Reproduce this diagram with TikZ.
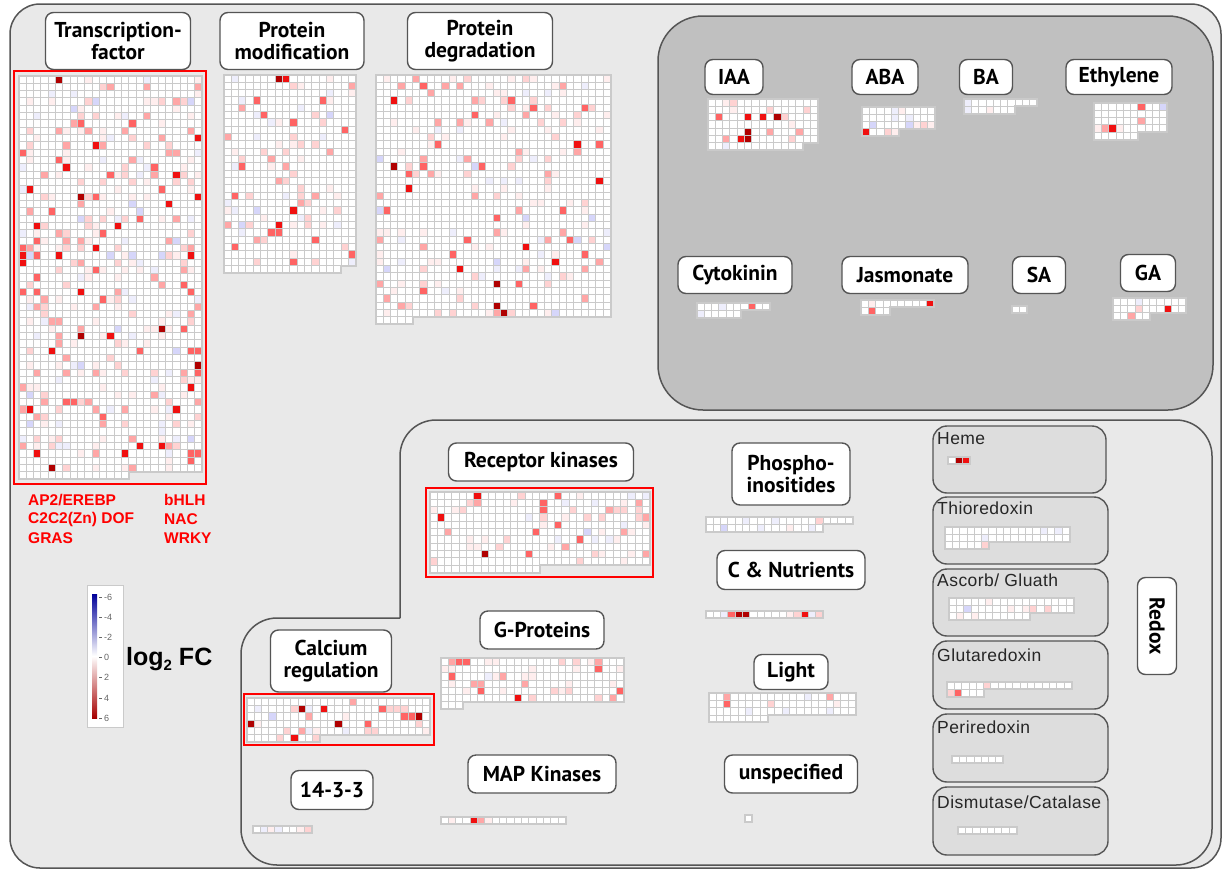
\documentclass[tikz,border=0pt]{standalone}
\usepackage{fontspec}
\setmainfont{Liberation Sans}
\newfontfamily\labff{PT Sans}
\newfontfamily\subff[LetterSpace=2.5]{Liberation Sans}
\definecolor{bgc}{HTML}{E9E9E9}
\definecolor{hormc}{HTML}{C0C0C0}
\definecolor{lc}{HTML}{555555}
\definecolor{subc}{HTML}{DDDDDD}
\definecolor{gridc}{HTML}{CACACA}
\definecolor{hA}{HTML}{FFEEEE}
\definecolor{hB}{HTML}{FFD2D2}
\definecolor{hC}{HTML}{FFA6A6}
\definecolor{hD}{HTML}{FF6464}
\definecolor{hE}{HTML}{F01010}
\definecolor{hF}{HTML}{B00000}
\definecolor{hG}{HTML}{EEEEFC}
\definecolor{hH}{HTML}{D6D6FA}
\definecolor{hlred}{HTML}{FF0000}
\definecolor{tickc}{HTML}{666666}
\def\cp{7.33}
\tikzset{
  gline/.style={draw=gridc, line width=1pt},
  gborder/.style={draw=gridc, line width=2pt, line join=miter},
  lab/.style={draw=lc, line width=1.4pt, fill=white, rounded corners=8pt, align=center, inner sep=0pt,
    font=\labff\bfseries\fontsize{21.5}{22}\selectfont},
  sublab/.style={anchor=north west, inner sep=0pt, font=\subff\fontsize{17.5}{20}\selectfont, text=black!85},
  subbox/.style={draw=lc, line width=1.4pt, fill=subc, rounded corners=14pt},
  hlbox/.style={draw=hlred, line width=2.2pt},
  redtxt/.style={anchor=west, inner sep=0pt, text=hlred, font=\bfseries\fontsize{15.5}{18}\selectfont},
  ticklab/.style={anchor=west, inner sep=0pt, text=tickc, font=\fontsize{9}{10}\selectfont}
}
\newcommand\hgrid[7]{%
  \pgfmathtruncatemacro\cmax{#3-1}%
  \pgfmathtruncatemacro\rmax{#4-1}%
  \fill[white] (#1,#2) rectangle ++({#3*\cp},{#4*\cp});
  \ifnum#5>0 \fill[white] (#1,{#2+#4*\cp}) rectangle ++({#5*\cp},\cp);\fi
  \ifnum#6>0
    \foreach \k in {1,...,#6}{%
      \pgfmathrandominteger{\rc}{0}{\cmax}%
      \pgfmathrandominteger{\rrow}{0}{\rmax}%
      \pgfmathrandominteger{\sh}{1}{100}%
      \ifnum\sh<29 \def\hcol{hA}\else
      \ifnum\sh<49 \def\hcol{hB}\else
      \ifnum\sh<66 \def\hcol{hC}\else
      \ifnum\sh<75 \def\hcol{hD}\else
      \ifnum\sh<81 \def\hcol{hE}\else
      \ifnum\sh<83 \def\hcol{hF}\else
      \ifnum\sh<96 \def\hcol{hG}\else \def\hcol{hH}\fi\fi\fi\fi\fi\fi\fi
      \fill[\hcol] ({#1+\rc*\cp},{#2+\rrow*\cp}) rectangle ++(\cp,\cp);
    }%
  \fi
  \foreach \ec/\er/\ecol in {#7}{\fill[\ecol] ({#1+\ec*\cp},{#2+\er*\cp}) rectangle ++(\cp,\cp);}%
  \foreach \lr in {0,...,#4}{\draw[gline] (#1,{#2+\lr*\cp}) -- ++({#3*\cp},0);}%
  \foreach \lc in {0,...,#3}{\draw[gline] ({#1+\lc*\cp},#2) -- ++(0,{#4*\cp});}%
  \ifnum#5>0
    \draw[gline] (#1,{#2+(#4+1)*\cp}) -- ++({#5*\cp},0);
    \foreach \lc in {0,...,#5}{\draw[gline] ({#1+\lc*\cp},{#2+#4*\cp}) -- ++(0,\cp);}%
    \draw[gborder] (#1,#2) -- ++({#3*\cp},0) -- ++(0,{#4*\cp}) -- ({#1+#5*\cp},{#2+#4*\cp}) -- ++(0,\cp) -- (#1,{#2+(#4+1)*\cp}) -- cycle;
  \else
    \draw[gborder] (#1,#2) rectangle ++({#3*\cp},{#4*\cp});
  \fi
}
\begin{document}
\begin{tikzpicture}[x=1pt,y=-1pt]
\pgfmathsetseed{11}
\fill[white] (0,0) rectangle (1226,873);
\useasboundingbox (0,0) rectangle (1226,873);
% regions
\draw[lc, line width=1.5pt, fill=bgc, rounded corners=30pt] (10,4) rectangle (1221,868);
\draw[lc, line width=1.5pt, fill=hormc, rounded corners=45pt] (658,16) rectangle (1213,410);
\draw[lc, line width=1.5pt, line join=round] (400,618) [rounded corners=36pt] -- (400,420) -- (1212,420) -- (1212,865) -- (241,865) -- (241,618) -- (400,618);
% redox sub boxes
\draw[subbox] (933,426) rectangle (1106,493);
\draw[subbox] (933,497) rectangle (1108,564);
\draw[subbox] (933,569) rectangle (1108,636);
\draw[subbox] (933,641) rectangle (1108,709);
\draw[subbox] (933,714) rectangle (1108,782);
\draw[subbox] (933,787) rectangle (1108,855);
\node[sublab] (heme) at (937,432) {Heme};
\node[sublab] (thio) at (937,502) {Thioredoxin};
\node[sublab] (asc) at (937,574) {Ascorb/ Gluath};
\node[sublab] (glu) at (937,649) {Glutaredoxin};
\node[sublab] (peri) at (937,721) {Periredoxin};
\node[sublab] (dism) at (937,796) {Dismutase/Catalase};
% grids
\hgrid{19}{76}{25}{54}{15}{400}{0/0/white}
\hgrid{224}{75}{18}{26}{16}{95}{0/0/white}
\hgrid{376}{75}{32}{33}{5}{215}{0/0/white}
\hgrid{430}{492}{30}{10}{15}{75}{0/0/white}
\hgrid{441}{658}{25}{6}{3}{40}{0/0/white}
\hgrid{247}{698}{25}{5}{10}{0}{14/0/hC,1/1/hG,6/1/hB,7/1/hF,8/1/hG,10/1/hE,18/1/hD,19/1/hB,20/1/hB,21/1/hB,3/2/hH,8/2/hC,13/2/hA,21/2/hD,22/2/hD,23/2/hF,0/3/hF,1/3/hA,12/3/hF,16/3/hD,23/3/hB,5/4/hB,7/4/hC,8/4/hG,9/4/hA,13/4/hG,16/4/hB,17/4/hB,24/4/hA,4/5/hB,6/5/hE,9/5/hB}
\hgrid{441}{817}{17}{1}{0}{0}{1/0/hA,4/0/hE,5/0/hC,6/0/hA}
\hgrid{253}{826}{8}{1}{0}{0}{1/0/hG,2/0/hA,3/0/hG,6/0/hA,7/0/hB}
\hgrid{706}{517}{20}{1}{16}{0}{5/0/hG,9/0/hG,15/0/hB,2/1/hH,7/1/hG,11/1/hA,14/1/hG}
\hgrid{706}{611}{16}{1}{0}{0}{2/0/hG,3/0/hD,4/0/hF,5/0/hF,11/0/hA,12/0/hB,13/0/hE,14/0/hG,15/0/hB}
\hgrid{709}{693}{20}{3}{8}{0}{2/0/hC,13/0/hG,16/0/hC,2/1/hD,8/1/hB,17/1/hA,5/2/hG,10/2/hG,16/2/hG}
\hgrid{745}{815}{1}{1}{0}{0}{0/0/white}
\hgrid{708}{99}{15}{6}{13}{0}{2/0/hA,3/0/hB,3/1/hA,8/1/hB,13/1/hB,1/2/hD,5/2/hE,7/2/hE,9/2/hF,10/2/hB,11/3/hA,5/4/hF,8/4/hC,12/4/hC,2/5/hC,4/5/hE,5/5/hF,11/5/hB,2/6/hG}
\hgrid{862}{107}{10}{3}{5}{0}{4/0/hG,5/0/hA,4/1/hG,6/1/hG,1/2/hH,6/2/hH,7/2/hA,8/2/hB,9/2/hA,0/3/hE,3/3/hB,4/3/hA}
\hgrid{964}{99}{10}{1}{7}{0}{0/0/hG,0/1/hG,3/1/hA}
\hgrid{1094}{103}{10}{4}{6}{0}{6/0/hD,9/0/hH,6/2/hC,0/3/hA,1/3/hC,2/3/hE,3/3/hA}
\hgrid{697}{303}{10}{1}{6}{0}{3/0/hG,7/0/hD,0/1/hG}
\hgrid{861}{300}{10}{1}{4}{0}{1/0/hA,9/0/hE,1/1/hD}
\hgrid{1012}{306}{2}{1}{0}{0}{0/0/white}
\hgrid{1113}{298}{10}{2}{5}{0}{3/0/hG,3/1/hB,7/1/hE,2/2/hC}
\hgrid{948}{457}{3}{1}{0}{0}{1/0/hF,2/0/hE}
\hgrid{945}{527}{17}{2}{6}{0}{13/0/hG,15/0/hG,5/1/hG,5/2/hB}
\hgrid{949}{598}{17}{2}{11}{0}{5/0/hA,2/1/hH,8/1/hA,10/1/hA,11/1/hB,13/1/hB,1/2/hA,3/2/hA}
\hgrid{947}{682}{17}{1}{5}{0}{5/0/hB,0/1/hB,1/1/hD}
\hgrid{952}{756}{7}{1}{0}{0}{0/0/white}
\hgrid{958}{827}{8}{1}{0}{0}{0/0/white}
% highlight boxes
\draw[hlbox] (14,71) rectangle (206,484);
\draw[hlbox] (426,488) rectangle (653,577);
\draw[hlbox] (244,694) rectangle (434,745);
% labels
\node[lab, minimum width=145pt, minimum height=57pt] (tf) at (118,41) {Transcription-\\factor};
\node[lab, minimum width=144pt, minimum height=57pt] (pm) at (292,41) {Protein\\modification};
\node[lab, minimum width=145pt, minimum height=57pt] (pd) at (480,41) {Protein\\degradation};
\node[lab, minimum width=58pt, minimum height=35pt] (iaa) at (734,77) {IAA};
\node[lab, minimum width=66pt, minimum height=35pt] (aba) at (885,77) {ABA};
\node[lab, minimum width=53pt, minimum height=35pt] (ba) at (986,77) {BA};
\node[lab, minimum width=106pt, minimum height=35pt] (eth) at (1119,77) {Ethylene};
\node[lab, minimum width=114pt, minimum height=37pt] (cyt) at (735,275) {Cytokinin};
\node[lab, minimum width=126pt, minimum height=37pt] (jas) at (905,275) {Jasmonate};
\node[lab, minimum width=53pt, minimum height=37pt] (sa) at (1039,275) {SA};
\node[lab, minimum width=55pt, minimum height=37pt] (ga) at (1148,273) {GA};
\node[lab, minimum width=185pt, minimum height=38pt] (rk) at (541,462) {Receptor kinases};
\node[lab, minimum width=118pt, minimum height=62pt] (phi) at (791,474) {Phospho-\\inositides};
\node[lab, minimum width=148pt, minimum height=39pt] (cn) at (791,570) {C \& Nutrients};
\node[lab, minimum width=124pt, minimum height=38pt] (gp) at (542,630) {G-Proteins};
\node[lab, minimum width=121pt, minimum height=62pt] (ca) at (331,661) {Calcium\\regulation};
\node[lab, minimum width=74pt, minimum height=35pt] (light) at (791,672) {Light};
\node[lab, minimum width=148pt, minimum height=38pt] (map) at (542,774) {MAP Kinases};
\node[lab, minimum width=133pt, minimum height=38pt] (unsp) at (791,774) {unspecified};
\node[lab, minimum width=82pt, minimum height=39pt] (f33) at (332,790) {14-3-3};
\node[lab, minimum width=97pt, minimum height=39pt, rotate=-90] (redox) at (1157,626) {Redox};
% red family text
\node[redtxt] (ap2) at (28,500) {AP2/EREBP};
\node[redtxt] (c2c2) at (28,519) {C2C2(Zn) DOF};
\node[redtxt] (gras) at (28,538) {GRAS};
\node[redtxt] (bhlh) at (164,500) {bHLH};
\node[redtxt] (nac) at (164,519) {NAC};
\node[redtxt] (wrky) at (164,538) {WRKY};
% legend
\draw[draw=gridc, line width=1pt, fill=white] (87,585) rectangle (123,727);
\shade[top color=blue!60!black, middle color=blue!70, bottom color=white] (92,594) rectangle (97,656);
\shade[top color=white, middle color=red!70, bottom color=red!65!black] (92,656) rectangle (97,718);
\foreach \v [count=\i from 0] in {-6,-4,-2,0,2,4,6}{
  \draw[tickc, line width=0.8pt] (99,{597+\i*20.2}) -- (102,{597+\i*20.2});
  \node[ticklab] (tk\i) at (104,{597+\i*20.2}) {\v};
}
\node[anchor=west, inner sep=0pt, font=\bfseries\fontsize{25}{28}\selectfont] (lfc) at (126,659) {log\raisebox{-0.35ex}{\fontsize{15}{15}\selectfont 2} FC};
\end{tikzpicture}
\end{document}
